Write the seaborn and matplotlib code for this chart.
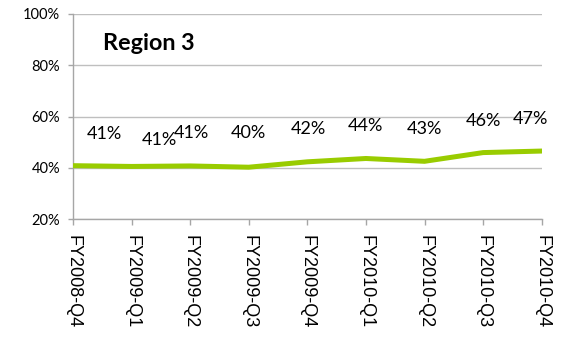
import matplotlib
matplotlib.use("Agg")
import matplotlib.pyplot as plt
import seaborn as sns
import pandas as pd
from matplotlib.ticker import FuncFormatter

# Quarterly share for Region 3
quarters = ["FY2008-Q4", "FY2009-Q1", "FY2009-Q2", "FY2009-Q3", "FY2009-Q4",
            "FY2010-Q1", "FY2010-Q2", "FY2010-Q3", "FY2010-Q4"]
share = [40.9, 40.6, 40.8, 40.3, 42.4, 43.7, 42.6, 46.0, 46.6]
y_ticks = [20, 40, 60, 80, 100]
title = "Region 3"

# Label offsets (pixels) so neighbouring labels stay readable
label_dx = [31, 28, 1, 0, 1, 0, 0, 0, -11]
label_dy = [32, 26, 33, 34, 33, 32, 32, 32, 32]

df = pd.DataFrame({"quarter": quarters, "share": share})

sns.set_theme(style="white")
plt.rcParams["font.family"] = ["Lato", "DejaVu Sans"]

fig = plt.figure(figsize=(5.61, 3.37), dpi=100)
ax = fig.add_axes([0.130, 0.3492, 0.8356, 0.6093])

sns.lineplot(data=df, x="quarter", y="share", ax=ax, color="#99CC00",
             linewidth=3.6, sort=False, zorder=3)

ax.set_xlim(0, len(quarters) - 1)
ax.set_ylim(20, 100)
ax.set_yticks(y_ticks)
ax.yaxis.set_major_formatter(FuncFormatter(lambda v, _: f"{v:.0f}%"))
ax.grid(axis="y", color="#BFBFBF", linewidth=1.0)
ax.set_axisbelow(True)

ax.set_xticks(range(len(quarters)))
ax.set_xticklabels(quarters, rotation=270, ha="center", va="top",
                   family=["Liberation Sans", "DejaVu Sans"], fontsize=13,
                   color="#000000")
ax.set_xlabel("")
ax.set_ylabel("")

for lbl in ax.get_yticklabels():
    lbl.set_fontsize(10.5)
    lbl.set_color("#000000")

ax.tick_params(axis="x", which="major", length=4.5, width=1, color="#A6A6A6",
               pad=7, direction="out", bottom=True)
ax.tick_params(axis="y", which="major", length=3.6, width=1, color="#A6A6A6",
               pad=5.5, direction="out", left=True)

for side in ["top", "right"]:
    ax.spines[side].set_visible(False)
for side in ["left", "bottom"]:
    ax.spines[side].set_color("#A6A6A6")
    ax.spines[side].set_linewidth(1.0)

for i, v in enumerate(share):
    ax.annotate(f"{round(v):d}%", xy=(i, v), xytext=(label_dx[i], label_dy[i]),
                textcoords="offset pixels", ha="center", va="center",
                fontsize=13, color="#000000", annotation_clip=False, zorder=4)

ax.text(103 / 561, 1 - 50 / 337, title, transform=fig.transFigure,
        fontsize=16.8, fontweight="bold", ha="left", va="baseline",
        color="#000000")

fig.savefig("out.png", dpi=100)
